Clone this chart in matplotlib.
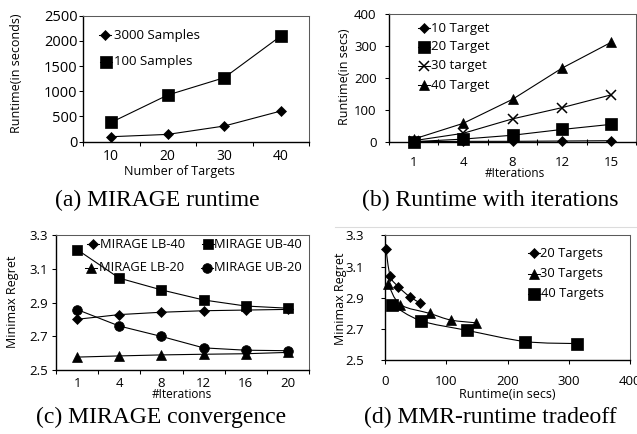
import matplotlib
matplotlib.use("Agg")
import matplotlib.pyplot as plt
from matplotlib.lines import Line2D
from matplotlib.path import Path
from matplotlib.patches import PathPatch
from matplotlib.ticker import FormatStrFormatter
import numpy as np

# ---------------- data ----------------
a_targets = ["10", "20", "30", "40"]
a_3000_samples = [99, 145, 311, 608]
a_100_samples = [384, 926, 1270, 2096]

b_iterations = ["1", "4", "8", "12", "15"]
b_10_target = [2, 3, 3, 4, 5]
b_20_target = [2, 10, 22, 40, 56]
b_30_target = [5, 28, 73, 108, 148]
b_40_target = [10, 59, 134, 231, 312]

c_iterations = ["1", "4", "8", "12", "16", "20"]
c_lb40 = [2.80, 2.828, 2.842, 2.851, 2.855, 2.859]
c_ub40 = [3.215, 3.045, 2.975, 2.915, 2.879, 2.866]
c_lb20 = [2.575, 2.582, 2.588, 2.592, 2.595, 2.603]
c_ub20 = [2.858, 2.760, 2.698, 2.630, 2.616, 2.613]

d_20_runtime = [1.5, 8.5, 22, 40, 57]
d_20_mmr = [3.215, 3.04, 2.97, 2.908, 2.868]
d_30_runtime = [5, 25, 73, 107, 148]
d_30_mmr = [2.988, 2.857, 2.80, 2.758, 2.74]
d_40_runtime = [11, 58.5, 134.5, 229, 313]
d_40_mmr = [2.855, 2.753, 2.691, 2.62, 2.607]

# ---------------- layout helpers ----------------
W, H = 637, 434
DPI = 100
SANS = "Open Sans"
SERIF = "Liberation Serif"
fig = plt.figure(figsize=(W / DPI, H / DPI), dpi=DPI)


def fx(x):
    return x / W


def fy(y):
    return 1 - y / H


def make_axes(l, t, r, b):
    ax = fig.add_axes([fx(l), fy(b), (r - l) / W, (b - t) / H])
    for s in ("top", "right"):
        ax.spines[s].set_color("#5a5a5a")
        ax.spines[s].set_linewidth(0.75)
    for s in ("left", "bottom"):
        ax.spines[s].set_color("black")
        ax.spines[s].set_linewidth(1.0)
    ax.tick_params(axis="y", length=3, width=0.75, direction="out")
    return ax


def categorical_x(ax, labels, fontsize, pad, tickdir="out", ticklen=3):
    n = len(labels)
    ax.set_xlim(-0.5, n - 0.5)
    ax.set_xticks(range(n))
    ax.set_xticklabels(labels, family=SANS)
    ax.set_xticks(np.arange(-0.5, n), minor=True)
    ax.tick_params(axis="x", which="major", length=0, pad=pad, labelsize=fontsize)
    ax.tick_params(axis="x", which="minor", length=ticklen, direction=tickdir, width=0.75)


def style_yticks(ax, fontsize, pad):
    ax.tick_params(axis="y", labelsize=fontsize, pad=pad)
    for lab in ax.get_yticklabels():
        lab.set_family(SANS)


def legend_entry(x, y, marker, ms, label, fontsize, seg=6, mew=0.5, text_x=None):
    fig.add_artist(Line2D([fx(x - seg), fx(x + seg)], [fy(y), fy(y)], color="black",
                          lw=0.75, transform=fig.transFigure))
    fig.add_artist(Line2D([fx(x)], [fy(y)], marker=marker, ms=ms, color="black",
                          mfc="black", mec="black", mew=mew, lw=0,
                          transform=fig.transFigure))
    tx = text_x if text_x is not None else x + seg + 1
    fig.text(fx(tx), fy(y), label, fontsize=fontsize, va="center", ha="left",
             family=SANS)


def smooth_path(xs, ys):
    p = np.column_stack([xs, ys]).astype(float)
    n = len(p)
    verts = [p[0]]
    codes = [Path.MOVETO]
    for i in range(n - 1):
        p0 = p[i - 1] if i > 0 else p[i]
        p1 = p[i]
        p2 = p[i + 1]
        p3 = p[i + 2] if i + 2 < n else p[i + 1]
        c1 = p1 + (p2 - p0) / 6.0
        c2 = p2 - (p3 - p1) / 6.0
        verts += [c1, c2, p2]
        codes += [Path.CURVE4] * 3
    return Path(verts, codes)


LW = 0.8
DMS = 5.0
common = dict(color="black", lw=LW, mfc="black", mec="black", mew=0.5, clip_on=False)

# ---------------- (a) ----------------
axa = make_axes(83, 15.7, 309, 141.7)
xa = np.arange(len(a_targets))
axa.plot(xa, a_3000_samples, marker="D", ms=DMS, **common)
axa.plot(xa, a_100_samples, marker="s", ms=8.8, **common)
axa.set_ylim(0, 2500)
axa.set_yticks(range(0, 2501, 500))
categorical_x(axa, a_targets, 10, 5)
style_yticks(axa, 10.5, 1)
fig.text(fx(179), fy(171), "Number of Targets", fontsize=9, ha="center", va="center", family=SANS)
fig.text(fx(17), fy(73), "Runtime(in seconds)", fontsize=9, ha="center", va="center",
         rotation=90, family=SANS)
legend_entry(105, 35, "D", DMS, "3000 Samples", 9.5, text_x=113.5)
legend_entry(106, 62, "s", 8.8, "100 Samples", 9.5, text_x=114)
fig.text(fx(157), fy(200), "(a) MIRAGE runtime", fontsize=17, ha="center", va="center",
         family=SERIF)

# ---------------- (b) ----------------
axb = make_axes(389, 14, 636, 142.3)
xb = np.arange(len(b_iterations))
axb.plot(xb, b_10_target, marker="D", ms=DMS, **common)
axb.plot(xb, b_20_target, marker="s", ms=8, **common)
axb.plot(xb, b_30_target, marker="x", ms=7.5, **dict(common, mew=1.1))
axb.plot(xb, b_40_target, marker="^", ms=7.5, **common)
axb.set_ylim(0, 400)
axb.set_yticks(range(0, 401, 100))
categorical_x(axb, b_iterations, 9.5, 10, tickdir="inout", ticklen=5)
style_yticks(axb, 9.5, 6)
fig.text(fx(515), fy(174), "#Iterations", fontsize=8.5, ha="center", va="center", family=SANS)
fig.text(fx(345), fy(77), "Runtime(in secs)", fontsize=9, ha="center", va="center",
         rotation=90, family=SANS)
legend_entry(424, 28.3, "D", DMS, "10 Target", 9.5, text_x=431)
legend_entry(424, 46.7, "s", 8, "20 Target", 9.5, text_x=431)
legend_entry(424, 65.7, "x", 7.5, "30 target", 9.5, mew=1.1, text_x=431)
legend_entry(424, 85, "^", 7.5, "40 Target", 9.5, text_x=431)
fig.text(fx(490), fy(200), "(b) Runtime with iterations", fontsize=17, ha="center",
         va="center", family=SERIF)

# ---------------- (c) ----------------
axc = make_axes(56, 235.3, 309, 369.7)
xc = np.arange(len(c_iterations))
axc.plot(xc, c_lb40, marker="D", ms=DMS, **common)
axc.plot(xc, c_ub40, marker="s", ms=7, **common)
axc.plot(xc, c_lb20, marker="^", ms=7.5, **common)
axc.plot(xc, c_ub20, marker="o", ms=7, **common)
axc.set_ylim(2.5, 3.3)
axc.set_yticks([2.5, 2.7, 2.9, 3.1, 3.3])
axc.yaxis.set_major_formatter(FormatStrFormatter("%.1f"))
categorical_x(axc, c_iterations, 9.5, 5)
style_yticks(axc, 9.5, 3)
fig.text(fx(182), fy(394), "#Iterations", fontsize=8.5, ha="center", va="center", family=SANS)
fig.text(fx(13), fy(302), "Minimax Regret", fontsize=9, ha="center", va="center",
         rotation=90, family=SANS)
legend_entry(93, 244.3, "D", DMS, "MIRAGE LB-40", 9.3, text_x=100)
legend_entry(208, 244.3, "s", 7, "MIRAGE UB-40", 9.3, text_x=214)
legend_entry(91, 267.7, "^", 7.5, "MIRAGE LB-20", 9.3, text_x=98.5)
legend_entry(207, 267.7, "o", 7, "MIRAGE UB-20", 9.3, text_x=214)
fig.text(fx(161), fy(417), "(c) MIRAGE convergence", fontsize=17, ha="center",
         va="center", family=SERIF)

# ---------------- (d) ----------------
axd = make_axes(385, 235.3, 630.3, 360.3)
for xs, ys, mk, ms in ((d_20_runtime, d_20_mmr, "D", DMS),
                       (d_30_runtime, d_30_mmr, "^", 7),
                       (d_40_runtime, d_40_mmr, "s", 8.3)):
    axd.add_patch(PathPatch(smooth_path(xs, ys), fill=False, edgecolor="black", lw=LW))
    axd.plot(xs, ys, marker=mk, ms=ms, linestyle="none", color="black", mfc="black",
             mec="black", mew=0.5, clip_on=False)
axd.set_xlim(0, 400)
axd.set_ylim(2.5, 3.3)
axd.set_xticks(range(0, 401, 100))
axd.set_yticks([2.5, 2.7, 2.9, 3.1, 3.3])
axd.yaxis.set_major_formatter(FormatStrFormatter("%.1f"))
axd.tick_params(axis="x", length=3, width=0.75, direction="out", labelsize=9.5, pad=7.5)
for lab in axd.get_xticklabels():
    lab.set_family(SANS)
style_yticks(axd, 9.5, 12)
fig.text(fx(507), fy(395), "Runtime(in secs)", fontsize=9, ha="center", va="center",
         family=SANS)
fig.text(fx(341), fy(299), "Minimax Regret", fontsize=9, ha="center", va="center",
         rotation=90, family=SANS)
legend_entry(534, 253, "D", DMS, "20 Targets", 9.3, text_x=540.5)
legend_entry(534, 273.7, "^", 7, "30 Targets", 9.3, text_x=540.5)
legend_entry(534, 293.7, "s", 8.3, "40 Targets", 9.3, text_x=541)
fig.text(fx(490), fy(417), "(d) MMR-runtime tradeoff", fontsize=17, ha="center",
         va="center", family=SERIF)

# faint page rule above panel (d)
fig.add_artist(Line2D([fx(335), fx(637)], [fy(227), fy(227)], color="#dcdcdc", lw=0.8,
                      transform=fig.transFigure))

fig.savefig("out.png", dpi=DPI)
